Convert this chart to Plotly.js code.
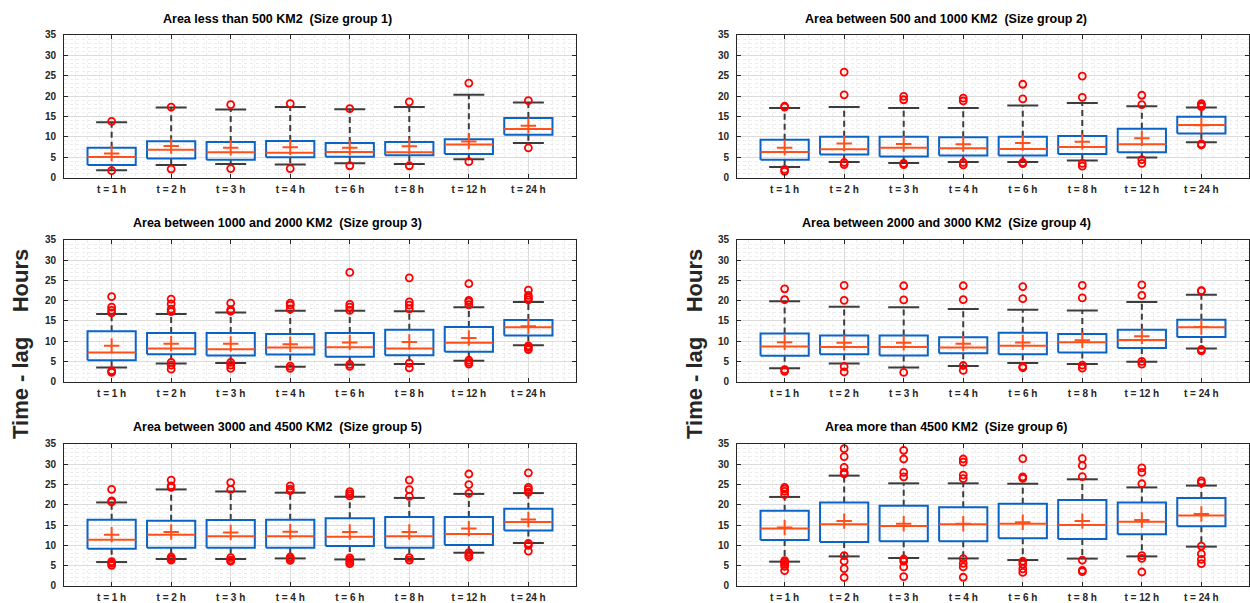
<!DOCTYPE html>
<html>
<head>
<meta charset="utf-8">
<script src="https://cdn.plot.ly/plotly-3.0.1.min.js"></script>
<style>
  html, body { margin: 0; padding: 0; background: #ffffff; }
  #chart { width: 1250px; height: 603px; }
</style>
</head>
<body>
<div id="chart"></div>
<script>
// Time-lag statistics per catchment size group, one box per forecast horizon.
const timeLabels = ['t = 1 h', 't = 2 h', 't = 3 h', 't = 4 h', 't = 6 h', 't = 8 h', 't = 12 h', 't = 24 h'];

const groupTitles = [
  'Area less than 500 KM2\u00a0 (Size group 1)',
  'Area between 500 and 1000 KM2\u00a0 (Size group 2)',
  'Area between 1000 and 2000 KM2\u00a0 (Size group 3)',
  'Area between 2000 and 3000 KM2\u00a0 (Size group 4)',
  'Area between 3000 and 4500 KM2\u00a0 (Size group 5)',
  'Area more than 4500 KM2\u00a0 (Size group 6)'
];

// Upper whisker ends (hours), one row per size group
const whiskerHigh = [
  [13.6, 17.2, 16.7, 17.3, 16.8, 17.3, 20.3, 18.4],
  [17.1, 17.3, 17.1, 17.1, 17.7, 18.3, 17.5, 17.2],
  [16.7, 16.7, 17.1, 17.5, 17.5, 17.4, 18.4, 19.7],
  [19.9, 18.5, 18.4, 17.95, 17.8, 17.6, 19.7, 21.5],
  [20.6, 23.8, 23.3, 23.0, 22.0, 21.7, 22.7, 22.9],
  [21.95, 27.2, 25.3, 25.3, 25.2, 26.3, 24.3, 24.75]
];

// Third quartile
const q3 = [
  [7.3, 8.9, 8.75, 9.0, 8.5, 8.75, 9.4, 14.6],
  [9.3, 10.05, 10.0, 9.9, 10.05, 10.2, 12.0, 14.9],
  [12.45, 12.0, 12.05, 11.8, 12.05, 12.8, 13.5, 15.25],
  [11.9, 11.4, 11.4, 11.0, 12.1, 11.8, 12.8, 15.3],
  [16.35, 16.1, 16.25, 16.35, 16.7, 17.0, 17.0, 19.05],
  [18.55, 20.6, 19.8, 19.4, 20.3, 21.2, 20.6, 21.7]
];

// Median
const median = [
  [5.05, 6.8, 6.2, 6.1, 6.3, 6.2, 8.1, 11.9],
  [6.3, 6.95, 7.3, 7.2, 7.0, 7.5, 8.2, 12.9],
  [7.2, 8.2, 8.0, 8.45, 8.5, 8.2, 9.6, 13.45],
  [8.7, 8.6, 8.6, 8.45, 8.85, 9.75, 10.3, 13.45],
  [11.4, 12.65, 12.25, 12.25, 12.15, 12.25, 12.8, 15.8],
  [14.2, 15.2, 14.8, 15.2, 15.35, 15.05, 15.85, 17.4]
];

// First quartile
const q1 = [
  [3.1, 4.7, 4.4, 5.0, 5.1, 5.5, 5.8, 10.5],
  [4.4, 5.65, 5.2, 5.4, 5.4, 5.8, 6.2, 10.8],
  [5.3, 6.8, 6.5, 6.7, 6.15, 6.55, 7.4, 11.4],
  [6.4, 6.8, 6.5, 7.0, 6.8, 7.2, 8.35, 11.05],
  [9.2, 9.45, 9.45, 9.45, 9.85, 9.45, 10.1, 13.7],
  [11.35, 10.85, 11.0, 11.0, 11.75, 11.6, 12.75, 14.7]
];

// Lower whisker ends
const whiskerLow = [
  [1.8, 3.1, 3.35, 3.2, 3.5, 3.35, 4.5, 8.5],
  [2.6, 3.85, 3.6, 3.85, 3.85, 4.2, 4.9, 8.65],
  [3.5, 4.5, 4.6, 3.7, 4.2, 4.4, 5.15, 9.0],
  [3.3, 4.5, 3.5, 3.9, 4.6, 4.4, 4.9, 8.2],
  [5.9, 6.65, 6.65, 6.8, 6.55, 6.65, 8.2, 10.6],
  [6.0, 7.3, 6.9, 6.8, 6.4, 6.75, 7.3, 9.7]
];

// Mean
const mean = [
  [5.9, 7.75, 7.3, 7.45, 7.35, 7.7, 8.85, 12.7],
  [7.35, 8.35, 8.25, 8.2, 8.5, 8.8, 9.65, 12.85],
  [8.85, 9.4, 9.35, 9.25, 9.7, 9.8, 10.8, 13.7],
  [9.75, 9.6, 9.6, 9.4, 9.7, 10.25, 11.2, 13.5],
  [12.65, 13.3, 13.2, 13.4, 13.3, 13.3, 14.15, 16.4],
  [14.4, 16.0, 15.35, 15.35, 15.7, 16.0, 16.25, 17.75]
];

// Outlying values, per group and horizon
const outliers = [
  [[13.8, 1.7], [17.3, 2.1], [17.9, 2.2], [18.15, 2.2], [16.9, 2.9], [18.6, 2.9], [23.2, 3.9], [18.9, 7.3]],
  [[17.3, 17.5, 2.0, 1.55], [20.3, 25.9, 3.7, 3.2], [19.95, 19.1, 3.5, 3.2], [19.5, 18.8, 3.7, 3.1],
   [19.3, 22.9, 3.7, 3.45], [19.7, 24.9, 3.5, 2.8], [17.9, 20.2, 4.4, 3.5], [18.15, 17.7, 17.4, 8.25, 8.0]],
  [[21.0, 18.4, 17.6, 17.0, 2.7, 2.3], [20.4, 19.2, 17.9, 17.3, 4.75, 4.1, 3.1], [19.4, 17.8, 17.4, 4.75, 4.1, 3.3],
   [19.4, 18.9, 17.95, 3.85, 3.3], [27.0, 19.1, 18.4, 17.6, 4.3, 3.8], [25.65, 19.7, 18.9, 18.0, 4.6, 3.4],
   [24.2, 20.1, 19.7, 19.0, 5.3, 4.75, 4.35], [22.6, 21.3, 20.7, 20.2, 8.85, 8.45, 7.95]],
  [[20.25, 22.95, 3.0, 2.55], [20.1, 23.8, 3.75, 2.4], [20.2, 23.7, 2.3], [20.25, 23.7, 4.0, 2.8],
   [20.5, 23.5, 3.75, 3.45], [20.7, 23.8, 4.1, 3.35], [21.3, 23.9, 5.0, 4.35], [22.5, 22.4, 7.95, 7.6]],
  [[23.8, 21.0, 20.7, 6.0, 5.6, 5.1], [26.1, 24.7, 24.3, 7.15, 6.75, 6.4], [25.5, 23.8, 7.0, 6.4, 6.1],
   [24.7, 23.9, 23.5, 7.15, 6.75, 6.3], [23.25, 22.7, 22.2, 6.95, 6.5, 6.0, 5.5], [26.1, 23.75, 22.1, 7.0, 6.4],
   [27.6, 25.0, 22.85, 8.2, 7.65, 7.15], [27.9, 24.3, 23.8, 23.1, 10.5, 10.0, 8.6]],
  [[24.3, 23.9, 23.3, 22.5, 6.25, 5.85, 5.35, 4.85, 3.8], [33.85, 31.9, 29.25, 28.0, 27.6, 7.5, 6.1, 4.3, 2.1],
   [33.45, 31.3, 28.0, 26.9, 6.65, 6.1, 4.7, 2.3], [31.3, 30.55, 27.35, 26.45, 6.75, 5.6, 4.7, 2.15],
   [31.4, 26.9, 26.55, 6.1, 5.35, 4.2, 3.35], [31.4, 29.65, 26.95, 6.35, 3.85, 3.55],
   [29.1, 28.0, 25.2, 7.5, 6.8, 3.45], [25.9, 25.4, 9.85, 7.9, 6.55, 5.5]]
];

// Styling
const BOX_BLUE = '#0b63c5';
const MED_ORANGE = '#ff4f1a';
const OUT_RED = '#ff0000';
const WHISK = '#3c3c3c';
const AXIS_DARK = '#262626';
const FONT = 'Arial, "Liberation Sans", Helvetica, sans-serif';
const BOX_HALF = 0.405;
const CAP_HALF = 0.26;

const xDomains = [[0.0512, 0.4608], [0.5896, 0.9992]];
const yDomains = [[0.7055, 0.9420], [0.3670, 0.6020], [0.0282, 0.2637]];
const positions = timeLabels.map((_, k) => k + 1);

const traces = [];
const layout = {
  width: 1250, height: 603,
  margin: { l: 0, r: 0, t: 0, b: 0 },
  paper_bgcolor: '#ffffff', plot_bgcolor: '#ffffff',
  showlegend: false,
  annotations: []
};

groupTitles.forEach((title, g) => {
  const row = Math.floor(g / 2), col = g % 2;
  const xa = 'x' + (g + 1), ya = 'y' + (g + 1);
  const xKey = 'xaxis' + (g === 0 ? '' : g + 1);
  const yKey = 'yaxis' + (g === 0 ? '' : g + 1);

  const common = { xaxis: xa, yaxis: ya, hoverinfo: 'skip', showlegend: false };

  const wx = [], wy = [];   // dashed whiskers
  const cx = [], cy = [];   // whisker caps
  const bx = [], by = [];   // quartile boxes
  const mx = [], my = [];   // medians
  const ox = [], oy = [];   // outliers

  positions.forEach((p, k) => {
    wx.push(p, p, null, p, p, null);
    wy.push(q3[g][k], whiskerHigh[g][k], null, q1[g][k], whiskerLow[g][k], null);
    cx.push(p - CAP_HALF, p + CAP_HALF, null, p - CAP_HALF, p + CAP_HALF, null);
    cy.push(whiskerHigh[g][k], whiskerHigh[g][k], null, whiskerLow[g][k], whiskerLow[g][k], null);
    bx.push(p - BOX_HALF, p + BOX_HALF, p + BOX_HALF, p - BOX_HALF, p - BOX_HALF, null);
    by.push(q1[g][k], q1[g][k], q3[g][k], q3[g][k], q1[g][k], null);
    mx.push(p - BOX_HALF, p + BOX_HALF, null);
    my.push(median[g][k], median[g][k], null);
    outliers[g][k].forEach(v => { ox.push(p); oy.push(v); });
  });

  traces.push(Object.assign({ type: 'scatter', mode: 'lines', x: wx, y: wy,
    line: { color: WHISK, width: 2, dash: '6px,4px' } }, common));
  traces.push(Object.assign({ type: 'scatter', mode: 'lines', x: cx, y: cy,
    line: { color: WHISK, width: 2 } }, common));
  traces.push(Object.assign({ type: 'scatter', mode: 'lines', x: bx, y: by,
    line: { color: BOX_BLUE, width: 2 } }, common));
  traces.push(Object.assign({ type: 'scatter', mode: 'lines', x: mx, y: my,
    line: { color: MED_ORANGE, width: 2 } }, common));
  traces.push(Object.assign({ type: 'scatter', mode: 'markers', x: positions, y: mean[g],
    marker: { symbol: 'cross-thin', size: 11, color: MED_ORANGE, line: { color: MED_ORANGE, width: 2 } } }, common));
  traces.push(Object.assign({ type: 'scatter', mode: 'markers', x: ox, y: oy,
    marker: { symbol: 'circle-open', size: 7, color: OUT_RED, line: { width: 1.8 } } }, common));

  const tickFont = { family: FONT, size: 10, color: AXIS_DARK, weight: 'bold' };

  layout[xKey] = {
    domain: xDomains[col], anchor: ya,
    range: [0.2, 8.8], fixedrange: true,
    tickmode: 'array', tickvals: positions, ticktext: timeLabels,
    ticks: 'inside', ticklen: 4, tickwidth: 1, tickcolor: AXIS_DARK,
    showline: true, linecolor: AXIS_DARK, linewidth: 1, mirror: 'ticks',
    showgrid: true, gridcolor: '#dcdcdc', gridwidth: 1,
    zeroline: false, tickfont: tickFont, ticklabelstandoff: 2,
    minor: { tick0: 0, dtick: 0.2, showgrid: true, gridcolor: '#ececec', griddash: 'dot', gridwidth: 1, ticks: '' }
  };
  layout[yKey] = {
    domain: yDomains[row], anchor: xa,
    range: [0, 35], fixedrange: true,
    tickmode: 'linear', tick0: 0, dtick: 5,
    ticks: 'inside', ticklen: 4, tickwidth: 1, tickcolor: AXIS_DARK,
    showline: true, linecolor: AXIS_DARK, linewidth: 1, mirror: 'ticks',
    showgrid: true, gridcolor: '#dcdcdc', gridwidth: 1,
    zeroline: false, tickfont: tickFont, ticklabelstandoff: 5,
    minor: { tick0: 0, dtick: 1, showgrid: true, gridcolor: '#ececec', griddash: 'dot', gridwidth: 1, ticks: '' }
  };

  // panel heading
  const titleCenters = [277, 946];
  const titleY = [19, 222.7, 426.7];
  layout.annotations.push({
    text: title, xref: 'paper', yref: 'paper',
    x: titleCenters[col] / 1250, y: 1 - titleY[row] / 603,
    xanchor: 'center', yanchor: 'middle', showarrow: false,
    font: { family: FONT, size: 12.5, color: '#000000', weight: 'bold' }
  });
});

// shared vertical axis caption for each column
[20, 694].forEach(px => {
  layout.annotations.push({
    text: 'Time - lag\u00a0\u00a0\u00a0\u00a0Hours', xref: 'paper', yref: 'paper',
    x: px / 1250, y: 1 - 344 / 603, xanchor: 'center', yanchor: 'middle',
    textangle: -90, showarrow: false,
    font: { family: FONT, size: 22, color: AXIS_DARK, weight: 'bold' }
  });
});

Plotly.newPlot('chart', traces, layout, { staticPlot: true, displayModeBar: false });
</script>
</body>
</html>
